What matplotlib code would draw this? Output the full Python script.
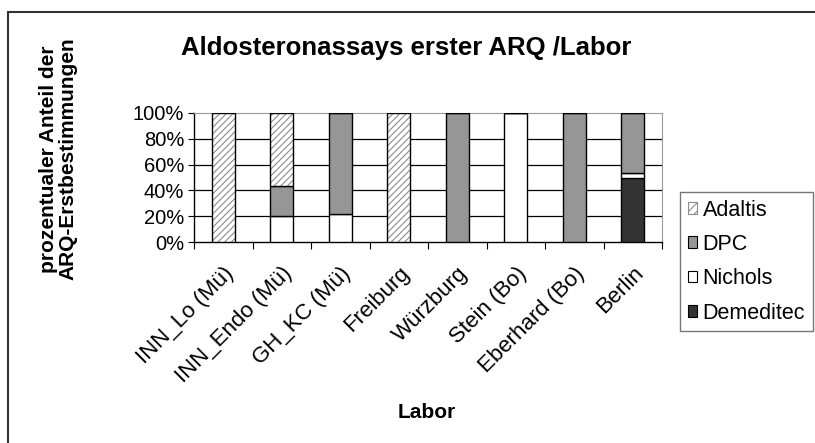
import matplotlib
matplotlib.use("Agg")
import matplotlib.pyplot as plt
import numpy as np
from matplotlib.patches import Rectangle, Patch

plt.rcParams["font.family"] = ["Liberation Sans", "DejaVu Sans"]
plt.rcParams["hatch.linewidth"] = 0.8

labs = ["INN_Lo (Mü)", "INN_Endo (Mü)", "GH_KC (Mü)", "Freiburg",
        "Würzburg", "Stein (Bo)", "Eberhard (Bo)", "Berlin"]
# shares in percent, stacked bottom -> top
demeditec = [0, 0, 0, 0, 0, 0, 0, 49.4]
nichols = [0, 20.4, 21.4, 0, 0, 100, 0, 3.9]
dpc = [0, 23.2, 78.6, 0, 100, 0, 100, 46.7]
adaltis = [100, 56.4, 0, 100, 0, 0, 0, 0]

fig = plt.figure(figsize=(8.15, 4.43), dpi=100)
ax = fig.add_axes([194 / 815, 1 - 242 / 443, 468 / 815, 129 / 443])

x = np.arange(len(labs))
w = 0.39
ec = "#000000"
lw = 1.0

b0 = np.zeros(len(labs))
ax.bar(x, demeditec, w, bottom=b0, color="#333333", edgecolor=ec, linewidth=lw, zorder=3)
b1 = b0 + np.array(demeditec)
ax.bar(x, nichols, w, bottom=b1, color="white", edgecolor=ec, linewidth=lw, zorder=3)
b2 = b1 + np.array(nichols)
ax.bar(x, dpc, w, bottom=b2, color="#969696", edgecolor=ec, linewidth=lw, zorder=3)
b3 = b2 + np.array(dpc)
# hatch in light gray, outline drawn separately in black
ax.bar(x, adaltis, w, bottom=b3, color="white", edgecolor="#8c8c8c", hatch="/////",
       linewidth=0, zorder=3)
ax.bar(x, adaltis, w, bottom=b3, fill=False, edgecolor=ec, linewidth=lw, zorder=4)

ax.set_xlim(-0.5, len(labs) - 0.5)
ax.set_ylim(0, 100)
ax.set_yticks([0, 20, 40, 60, 80, 100])
ax.set_yticklabels([f"{v}%" for v in range(0, 101, 20)], fontsize=14.5)
for v in [20, 40, 60, 80]:
    ax.axhline(v, color="black", linewidth=0.9, zorder=1)

ax.set_xticks(np.arange(-0.5, len(labs), 1.0))
ax.set_xticklabels([])
ax.set_xticks(x, minor=True)
ax.set_xticklabels(labs, minor=True, rotation=45, ha="right", rotation_mode="anchor", fontsize=16)
ax.tick_params(axis="x", which="major", length=5, direction="out", color="black")
ax.tick_params(axis="x", which="minor", length=0, pad=15)
ax.tick_params(axis="y", length=4, direction="out", pad=3)

for s in ["top", "right"]:
    ax.spines[s].set_color("#999999")
ax.spines["left"].set_linewidth(1.0)
ax.spines["bottom"].set_linewidth(1.0)

fig.text(406 / 815, 1 - 48 / 443, "Aldosteronassays erster ARQ /Labor", ha="center", va="center",
         fontsize=18.5, fontweight="bold")
fig.text(427 / 815, 1 - 412 / 443, "Labor", ha="center", va="center", fontsize=15, fontweight="bold")
fig.text(58 / 815, 1 - 159 / 443, "prozentualer Anteil der\nARQ-Erstbestimmungen", ha="center", va="center",
         rotation=90, fontsize=15, fontweight="bold", linespacing=1.05)

handles = [
    Patch(facecolor="white", edgecolor="#8c8c8c", hatch="////", linewidth=0.8),
    Patch(facecolor="#969696", edgecolor="black", linewidth=0.8),
    Patch(facecolor="white", edgecolor="black", linewidth=0.8),
    Patch(facecolor="#333333", edgecolor="black", linewidth=0.8),
]
leg = fig.legend(handles, ["Adaltis", "DPC", "Nichols", "Demeditec"], loc="upper left",
                 bbox_to_anchor=(680 / 815, 1 - 192 / 443), fontsize=15.5, frameon=True,
                 fancybox=False, edgecolor="#555555", handlelength=0.45, handleheight=0.45,
                 handletextpad=0.25, labelspacing=0.62, borderpad=0.35, borderaxespad=0)
leg.get_frame().set_linewidth(1.0)

fig.patches.append(Rectangle((8 / 815, -0.1), 1.2, 1 - 12 / 443 + 0.1, transform=fig.transFigure,
                             fill=False, edgecolor="#333333", linewidth=1.5))

fig.savefig("out.png", dpi=100)
